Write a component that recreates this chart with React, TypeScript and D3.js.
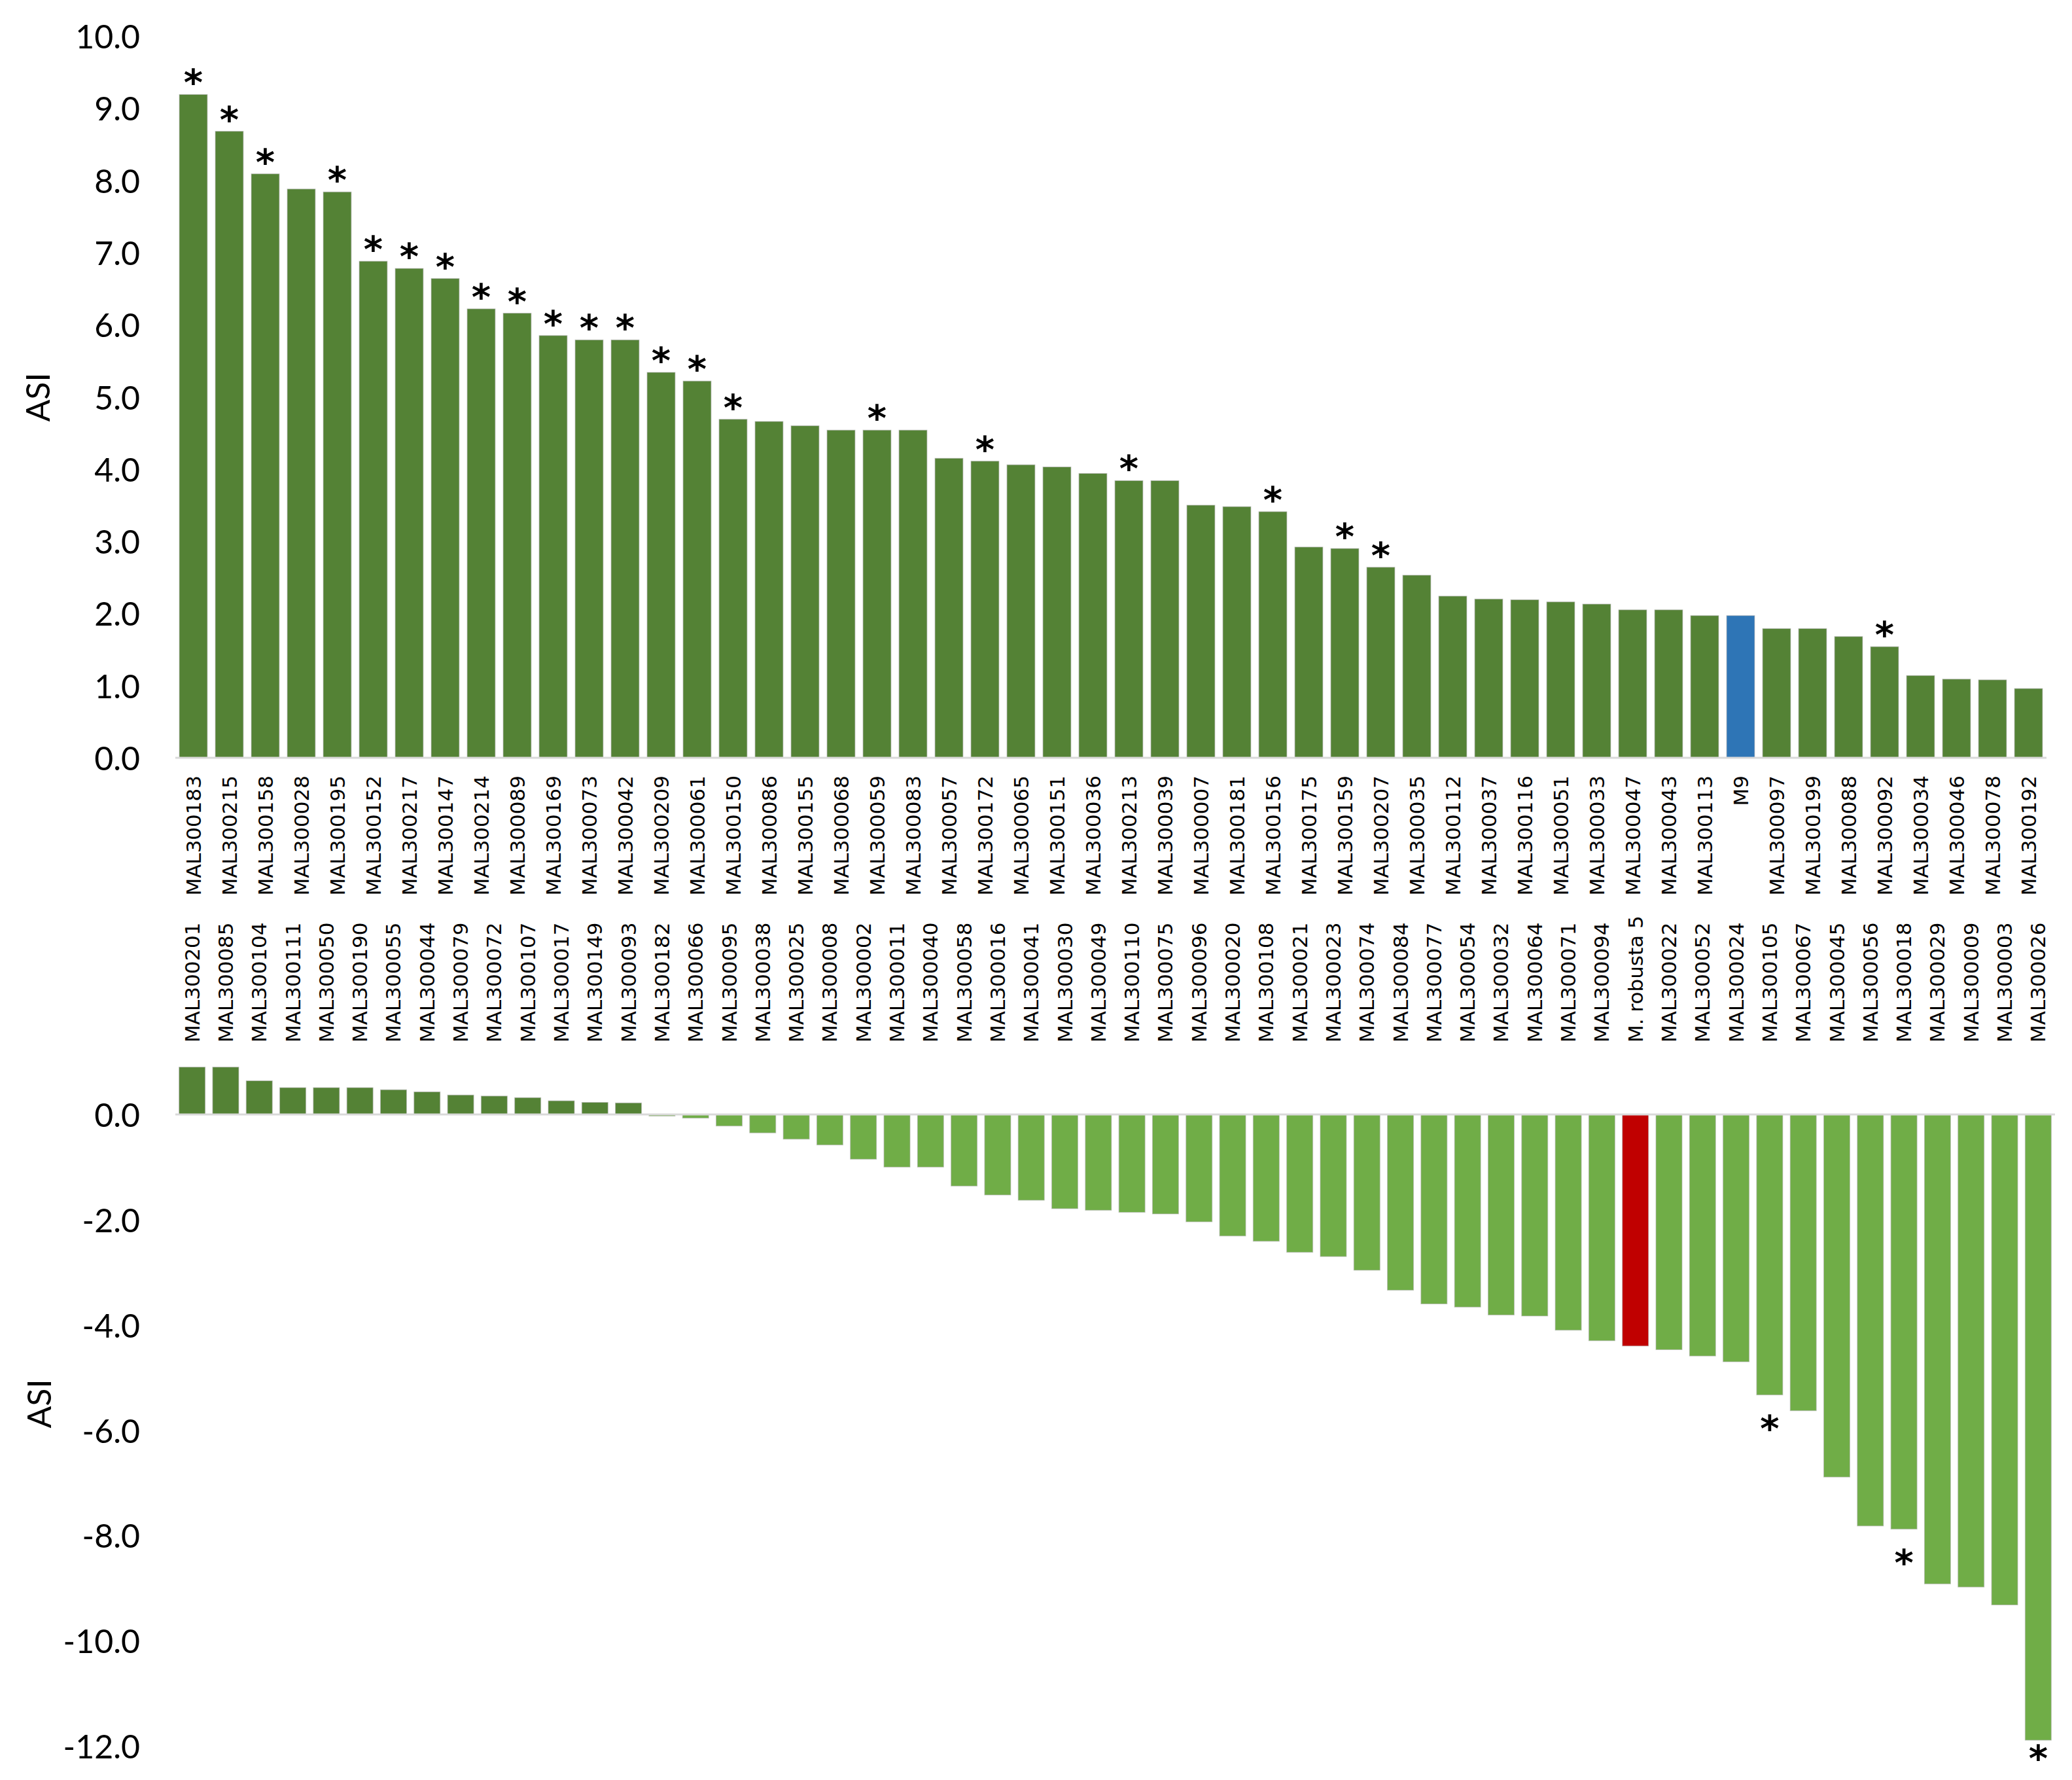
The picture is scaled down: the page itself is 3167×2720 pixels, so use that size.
import React from "react";
import * as d3 from "d3";

const W = 3167;
const H = 2720;

const topCategories = [
  "MAL300183", "MAL300215", "MAL300158", "MAL300028", "MAL300195", "MAL300152", "MAL300217", "MAL300147",
  "MAL300214", "MAL300089", "MAL300169", "MAL300073", "MAL300042", "MAL300209", "MAL300061", "MAL300150",
  "MAL300086", "MAL300155", "MAL300068", "MAL300059", "MAL300083", "MAL300057", "MAL300172", "MAL300065",
  "MAL300151", "MAL300036", "MAL300213", "MAL300039", "MAL300007", "MAL300181", "MAL300156", "MAL300175",
  "MAL300159", "MAL300207", "MAL300035", "MAL300112", "MAL300037", "MAL300116", "MAL300051", "MAL300033",
  "MAL300047", "MAL300043", "MAL300113", "M9", "MAL300097", "MAL300199", "MAL300088", "MAL300092",
  "MAL300034", "MAL300046", "MAL300078", "MAL300192",
];
const topValues = [
  9.19, 8.68, 8.09, 7.88, 7.84, 6.88, 6.78, 6.64,
  6.22, 6.16, 5.85, 5.79, 5.79, 5.34, 5.22, 4.69,
  4.66, 4.60, 4.54, 4.54, 4.54, 4.15, 4.11, 4.06,
  4.03, 3.94, 3.84, 3.84, 3.50, 3.48, 3.41, 2.92,
  2.90, 2.64, 2.53, 2.24, 2.20, 2.19, 2.16, 2.13,
  2.05, 2.05, 1.97, 1.97, 1.79, 1.79, 1.68, 1.54,
  1.14, 1.09, 1.08, 0.96,
];
const topSignificant = [
  "MAL300183", "MAL300215", "MAL300158", "MAL300195", "MAL300152", "MAL300217", "MAL300147", "MAL300214",
  "MAL300089", "MAL300169", "MAL300073", "MAL300042", "MAL300209", "MAL300061", "MAL300150", "MAL300059",
  "MAL300172", "MAL300213", "MAL300156", "MAL300159", "MAL300207", "MAL300092",
];
const topHighlight = ["M9"];

const bottomCategories = [
  "MAL300201", "MAL300085", "MAL300104", "MAL300111", "MAL300050", "MAL300190", "MAL300055", "MAL300044",
  "MAL300079", "MAL300072", "MAL300107", "MAL300017", "MAL300149", "MAL300093", "MAL300182", "MAL300066",
  "MAL300095", "MAL300038", "MAL300025", "MAL300008", "MAL300002", "MAL300011", "MAL300040", "MAL300058",
  "MAL300016", "MAL300041", "MAL300030", "MAL300049", "MAL300110", "MAL300075", "MAL300096", "MAL300020",
  "MAL300108", "MAL300021", "MAL300023", "MAL300074", "MAL300084", "MAL300077", "MAL300054", "MAL300032",
  "MAL300064", "MAL300071", "MAL300094", "M. robusta 5", "MAL300022", "MAL300052", "MAL300024", "MAL300105",
  "MAL300067", "MAL300045", "MAL300056", "MAL300018", "MAL300029", "MAL300009", "MAL300003", "MAL300026",
];
const bottomValues = [
  0.90, 0.90, 0.64, 0.51, 0.51, 0.51, 0.47, 0.43,
  0.37, 0.35, 0.32, 0.26, 0.23, 0.22, -0.03, -0.07,
  -0.22, -0.35, -0.47, -0.58, -0.85, -1.00, -1.00, -1.36,
  -1.53, -1.63, -1.79, -1.82, -1.86, -1.89, -2.04, -2.31,
  -2.41, -2.62, -2.70, -2.96, -3.34, -3.60, -3.66, -3.81,
  -3.83, -4.10, -4.30, -4.40, -4.47, -4.59, -4.70, -5.33,
  -5.63, -6.89, -7.82, -7.88, -8.92, -8.98, -9.32, -11.89,
];
const bottomSignificant = ["MAL300105", "MAL300018", "MAL300026"];
const bottomHighlight = ["M. robusta 5"];

const topTicks = [0, 1, 2, 3, 4, 5, 6, 7, 8, 9, 10];
const bottomTicks = [0, -2, -4, -6, -8, -10, -12];

const DARK = "#548235";
const LIGHT = "#70AD47";
const BLUE = "#2E75B6";
const RED = "#C00000";
const AXIS = "#D9D9D9";
const EDGE = "#B8B8B8";
const tickFont = "Lato, 'Open Sans', sans-serif";
const catFont = "'DejaVu Sans', Verdana, sans-serif";

const fmt = (v: number) => v.toFixed(1);

export default function App() {
  const xTop = d3.scaleBand<string>().domain(topCategories).range([268, 3128]).paddingInner(0.22).paddingOuter(0.11);
  const yTop = d3.scaleLinear().domain([0, 10]).range([1158, 55]);
  const xBot = d3.scaleBand<string>().domain(bottomCategories).range([268, 3141]).paddingInner(0.22).paddingOuter(0.11);
  const yBot = d3.scaleLinear().domain([-12, 0]).range([2668, 1703]);

  const topData = topCategories.map((c, i) => ({ c, v: topValues[i] }));
  const botData = bottomCategories.map((c, i) => ({ c, v: bottomValues[i] }));

  const starSize = 56;
  const starTopLimit = 2665; // labels kept inside the plot area

  return (
    <svg width={W} height={H} style={{ position: "absolute", left: 0, top: 0, background: "#fff" }}>
      <rect x={0} y={0} width={W} height={H} fill="#fff" />
      {/* Top chart */}
      {topTicks.map((t) => (
        <text key={"tt" + t} x={214} y={yTop(t)} textAnchor="end" dominantBaseline="central"
          fontFamily={tickFont} fontSize={50} fill="#000">{fmt(t)}</text>
      ))}
      <text transform={`translate(57,607) rotate(-90)`} textAnchor="middle" dominantBaseline="central"
        fontFamily={tickFont} fontSize={50} fill="#000">ASI</text>
      {topData.map((d) => (
        <rect key={"tb" + d.c} x={xTop(d.c)} y={yTop(d.v)} width={xTop.bandwidth()} height={yTop(0) - yTop(d.v)}
          fill={topHighlight.includes(d.c) ? BLUE : DARK} stroke={EDGE} strokeWidth={1} strokeOpacity={0.7} />
      ))}
      <line x1={268} x2={3128} y1={yTop(0)} y2={yTop(0)} stroke={AXIS} strokeWidth={3} />
      {topData.filter((d) => topSignificant.includes(d.c)).map((d) => (
        <text key={"ts" + d.c} x={(xTop(d.c) as number) + xTop.bandwidth() / 2} y={yTop(d.v) + 1}
          textAnchor="middle" fontFamily={catFont} fontWeight="bold" fontSize={starSize} fill="#000">*</text>
      ))}
      {topData.map((d) => (
        <text key={"tl" + d.c} transform={`translate(${(xTop(d.c) as number) + xTop.bandwidth() / 2},1185) rotate(-90)`}
          textAnchor="end" dominantBaseline="central" fontFamily={catFont} fontSize={31} fill="#000">{d.c}</text>
      ))}

      {/* Bottom chart */}
      {botData.map((d) => (
        <text key={"bl" + d.c} transform={`translate(${(xBot(d.c) as number) + xBot.bandwidth() / 2},1593) rotate(-90)`}
          textAnchor="start" dominantBaseline="central" fontFamily={catFont} fontSize={31} fill="#000">{d.c}</text>
      ))}
      {bottomTicks.map((t) => (
        <text key={"bt" + t} x={214} y={yBot(t)} textAnchor="end" dominantBaseline="central"
          fontFamily={tickFont} fontSize={50} fill="#000">{fmt(t)}</text>
      ))}
      <text transform={`translate(59,2145) rotate(-90)`} textAnchor="middle" dominantBaseline="central"
        fontFamily={tickFont} fontSize={50} fill="#000">ASI</text>
      {botData.map((d) => (
        <rect key={"bb" + d.c} x={xBot(d.c)} y={Math.min(yBot(d.v), yBot(0))} width={xBot.bandwidth()}
          height={Math.abs(yBot(d.v) - yBot(0))}
          fill={bottomHighlight.includes(d.c) ? RED : d.v >= 0 ? DARK : LIGHT}
          stroke={EDGE} strokeWidth={1} strokeOpacity={0.7} />
      ))}
      <line x1={268} x2={3141} y1={yBot(0)} y2={yBot(0)} stroke={AXIS} strokeWidth={3} />
      {botData.filter((d) => bottomSignificant.includes(d.c)).map((d) => (
        <text key={"bs" + d.c} x={(xBot(d.c) as number) + xBot.bandwidth() / 2}
          y={Math.min(yBot(d.v) + 29, starTopLimit) + 0.73 * starSize}
          textAnchor="middle" fontFamily={catFont} fontWeight="bold" fontSize={starSize} fill="#000">*</text>
      ))}
    </svg>
  );
}
